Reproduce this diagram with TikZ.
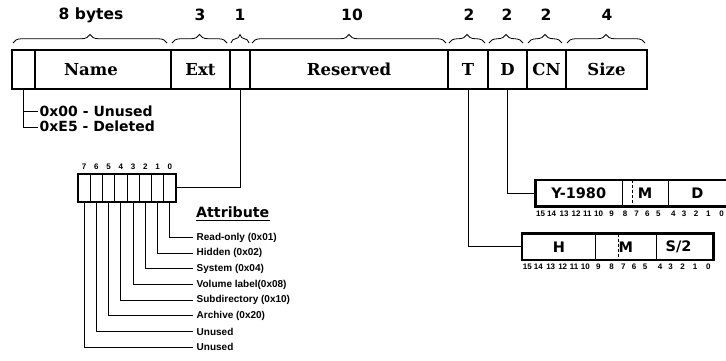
\documentclass[tikz,border=0pt]{standalone}
\usepackage{fontspec}
\setmainfont{DejaVu Sans}
\newfontfamily\serifbold{DejaVu Serif}
\newfontfamily\arialb{Liberation Sans}
\usetikzlibrary{decorations.pathreplacing,calc}
\begin{document}
\begin{tikzpicture}[x=1pt,y=-1pt,
  fld/.style={draw, line width=1.4pt, minimum height=39pt, inner sep=0pt, outer sep=0pt, anchor=north west,
    font=\serifbold\bfseries\fontsize{16.5}{16}\selectfont},
  bigsans/.style={inner sep=0pt, font=\bfseries\fontsize{15.5}{16}\selectfont},
  midsans/.style={inner sep=0pt, font=\bfseries\fontsize{14}{14}\selectfont},
  smallsans/.style={inner sep=0pt, font=\arialb\bfseries\fontsize{10}{10}\selectfont},
  tinysans/.style={inner sep=0pt, font=\arialb\bfseries\fontsize{8}{8}\selectfont},
  bracestyle/.style={decorate, decoration={brace, amplitude=8.5pt}, line width=0.8pt},
  conn/.style={line width=0.9pt},
  bitcell/.style={draw, line width=0.9pt, minimum width=12.25pt, minimum height=27.7pt, inner sep=0pt, outer sep=0pt, anchor=north west},
  sub/.style={draw, line width=0.9pt, inner sep=0pt, outer sep=0pt, anchor=north west,
    font=\bfseries\fontsize{14.5}{14}\selectfont},
  outer/.style={line width=2.5pt}
]
\useasboundingbox (0,0) rectangle (726,360);

% ---- main directory entry bar ----
\node[fld, minimum width=23pt]  (c0)   at (12,50)  {};
\node[fld, minimum width=136pt] (name) at (35,50)  {};
\node[fld, minimum width=59pt]  (ext)  at (171,50) {Ext};
\node[fld, minimum width=20pt]  (att)  at (230,50) {};
\node[fld, minimum width=198pt] (res)  at (250,50) {Reserved};
\node[fld, minimum width=40pt]  (T)    at (448,50) {T};
\node[fld, minimum width=39pt]  (D)    at (488,50) {D};
\node[fld, minimum width=39pt]  (CN)   at (527,50) {CN};
\node[fld, minimum width=81pt]  (size) at (566,50) {Size};
\draw[outer] (c0.north west) rectangle (size.south east);
\node[inner sep=0pt, font=\serifbold\bfseries\fontsize{16.5}{16}\selectfont] (nametxt) at (91,69.5) {Name};

% ---- braces and byte counts ----
\draw[bracestyle] ($(c0.north west)+(1,-7)$)   -- ($(name.north east)+(-4,-7)$);
\draw[bracestyle] ($(ext.north west)+(1,-7)$)  -- ($(ext.north east)+(-3,-7)$);
\draw[bracestyle] ($(att.north west)+(1,-7)$)  -- ($(att.north east)+(-1,-7)$);
\draw[bracestyle] ($(res.north west)+(2,-7)$)  -- ($(res.north east)+(-2,-7)$);
\draw[bracestyle] ($(T.north west)+(1,-7)$)    -- ($(T.north east)+(-3,-7)$);
\draw[bracestyle] ($(D.north west)+(1,-7)$)    -- ($(D.north east)+(-4,-7)$);
\draw[bracestyle] ($(CN.north west)+(1,-7)$)   -- ($(CN.north east)+(-4,-7)$);
\draw[bracestyle] ($(size.north west)+(1,-7)$) -- ($(size.north east)+(-2,-7)$);
\node[bigsans] (n8)  at (91,15)  {8 bytes};
\node[bigsans] (n3)  at (200,15) {3};
\node[bigsans] (n1)  at (240,15) {1};
\node[bigsans] (n10) at (352,15) {10};
\node[bigsans] (n2a) at (469,15) {2};
\node[bigsans] (n2b) at (507,15) {2};
\node[bigsans] (n2c) at (546,15) {2};
\node[bigsans] (n4)  at (607,15) {4};

% ---- first byte notes ----
\coordinate (u0) at (38,111.7);
\coordinate (u1) at (38,127.7);
\draw[conn] (c0.south) |- (u1);
\draw[conn] (c0.south |- u0) -- (u0);
\node[midsans, anchor=west] (t0) at (39.5,111.3) {0x00 - Unused};
\node[midsans, anchor=west] (t1) at (39.5,126.3) {0xE5 - Deleted};

% ---- attribute byte ----
\foreach \i in {0,...,7} {
  \node[bitcell] (b\i) at ({78+12.25*(7-\i)},174) {};
  \node[tinysans] (bl\i) at ($(b\i.north)+(0,-7)$) {\i};
}
\draw[line width=1.8pt] (b7.north west) rectangle (b0.south east);
\draw[conn] (att.south) |- (b0.east);

\node[inner sep=0pt, anchor=west, font=\bfseries\fontsize{14.2}{15}\selectfont] (ahead) at (196,212) {Attribute};
\draw[line width=1.3pt] ($(ahead.south west)+(0,2.5)$) -- ($(ahead.south east)+(0,2.5)$);

\foreach \i/\t in {0/Read-only (0x01),1/Hidden (0x02),2/System (0x04),3/Volume label(0x08),
                   4/Subdirectory (0x10),5/Archive (0x20),6/Unused,7/Unused} {
  \coordinate (r\i) at (193,{237.5+15.67*\i});
  \draw[conn] (b\i.south) |- (r\i);
  \node[smallsans, anchor=west] (rt\i) at ($(r\i)+(3.5,0)$) {\t};
}

% ---- date word ----
\node[sub, minimum width=86.5pt, minimum height=26.7pt] (dY) at (535.5,180) {Y-1980};
\node[sub, minimum width=46pt,   minimum height=26.7pt] (dM) at (622,180)   {M};
\node[sub, minimum width=58.8pt, minimum height=26.7pt] (dD) at (668,180)   {D};
\draw[outer] (dY.north west) rectangle (dD.south east);
\draw[line width=0.9pt, dash pattern=on 3pt off 2pt] ($(dM.north west)+(10.3,0)$) -- ($(dM.south west)+(10.3,0)$);
\draw[conn] (D.south) |- (dY.west);

% ---- time word ----
\node[sub, minimum width=73.7pt, minimum height=26.5pt] (tH) at (522,233.5)   {H};
\node[sub, minimum width=60.3pt, minimum height=26.5pt] (tM) at (595.7,233.5) {M};
\node[sub, minimum width=57.3pt, minimum height=26.5pt] (tS) at (656,233.5)   {\hspace*{-12pt}S/2};
\draw[outer] (tH.north west) rectangle (tS.south east);
\draw[line width=0.9pt, dash pattern=on 3pt off 2pt] ($(tM.north west)+(22.6,0)$) -- ($(tM.south west)+(22.6,0)$);
\draw[conn] (T.south) |- (tH.west);

% ---- bit number rows ----
\foreach \n/\x in {15/527.3,14/538.3,13/550.7,12/562.7,11/574,10/585.3,9/598.3,8/611.7,
                   7/623.3,6/634,5/645,4/660,3/670.7,2/682.7,1/695,0/708.3} {
  \node[tinysans] (tb\n) at (\x,266.7) {\n};
  \node[tinysans] (db\n) at ({\x+13.3},213.3) {\n};
}
\end{tikzpicture}
\end{document}
